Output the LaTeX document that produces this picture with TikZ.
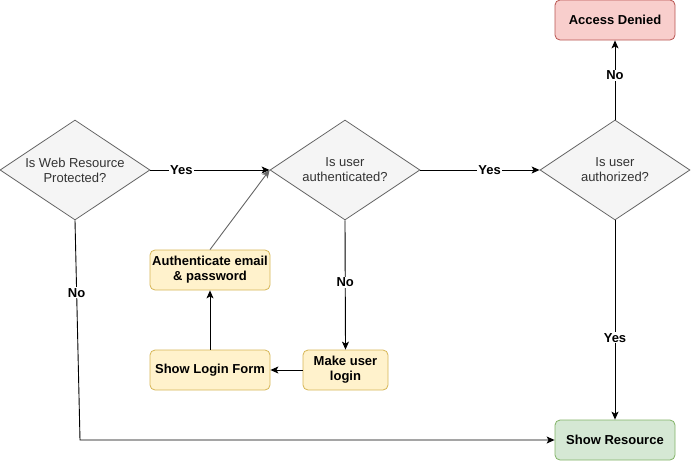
\documentclass[tikz,border=0pt]{standalone}
\usepackage{fontspec}
\setmainfont{Liberation Sans}
\usetikzlibrary{shapes.geometric,arrows.meta}
\definecolor{dfill}{HTML}{F5F5F5}
\definecolor{ddraw}{HTML}{666666}
\definecolor{dtext}{HTML}{333333}
\definecolor{yfill}{HTML}{FFF2CC}
\definecolor{ydraw}{HTML}{D6B656}
\definecolor{rfill}{HTML}{F8CECC}
\definecolor{rdraw}{HTML}{B85450}
\definecolor{gfill}{HTML}{D5E8D4}
\definecolor{gdraw}{HTML}{82B366}
\tikzset{
  decision/.style={diamond, draw=ddraw, fill=dfill, text=dtext, line width=0.8pt,
    minimum width=150pt, minimum height=100pt, inner sep=0pt, shape aspect=1.5,
    align=center, font=\fontsize{13}{15}\selectfont},
  proc/.style={rectangle, rounded corners=5pt, line width=0.8pt, minimum width=120pt,
    minimum height=40pt, inner sep=1pt, align=center, font=\bfseries\fontsize{13}{15}\selectfont},
  yel/.style={proc, draw=ydraw, fill=yfill},
  red/.style={proc, draw=rdraw, fill=rfill},
  grn/.style={proc, draw=gdraw, fill=gfill},
  conn/.style={-{Stealth[length=8pt,width=7pt,inset=2pt]}, line width=0.9pt},
  lbl/.style={fill=white, inner sep=1pt, font=\bfseries\fontsize{13}{15}\selectfont}
}
\begin{document}
\begin{tikzpicture}[x=1pt,y=-1pt]
\useasboundingbox (0,0) rectangle (691,461);
\node[decision] (d1) at (75,170) {Is Web Resource\\Protected?};
\node[decision] (d2) at (345,170) {Is user\\authenticated?};
\node[decision] (d3) at (615,170) {Is user\\authorized?};
\node[red] (ad) at (615,20) {Access Denied};
\node[grn] (sr) at (615,440) {Show Resource};
\node[yel] (ae) at (210,270) {Authenticate email\\\& password};
\node[yel] (sl) at (210,370) {Show Login Form};
\node[yel, minimum width=85pt] (ml) at (345.5,370) {Make user\\login};
\coordinate (c1) at (80,440);

\draw[conn] (d1.east) -- node[lbl, pos=0.26] {Yes} (d2.west);
\draw[conn, draw=ddraw] (ae.north) -- (d2.west);
\draw[conn] (d2.east) -- node[lbl, pos=0.58] {Yes} (d3.west);
\draw[conn] (d3.north) -- node[lbl, pos=0.56] {No} (ad.south);
\draw[conn] (d3.south) -- node[lbl, pos=0.59] {Yes} (sr.north);
\draw[conn] (d2.south) -- node[lbl, pos=0.48] {No} (ml.north);
\draw[conn] (ml.west) -- (sl.east);
\draw[conn] (sl.north) -- (ae.south);
\draw[conn] (d1.south) -- node[lbl, pos=0.33] {No} (c1) -- (sr.west);
\end{tikzpicture}
\end{document}
